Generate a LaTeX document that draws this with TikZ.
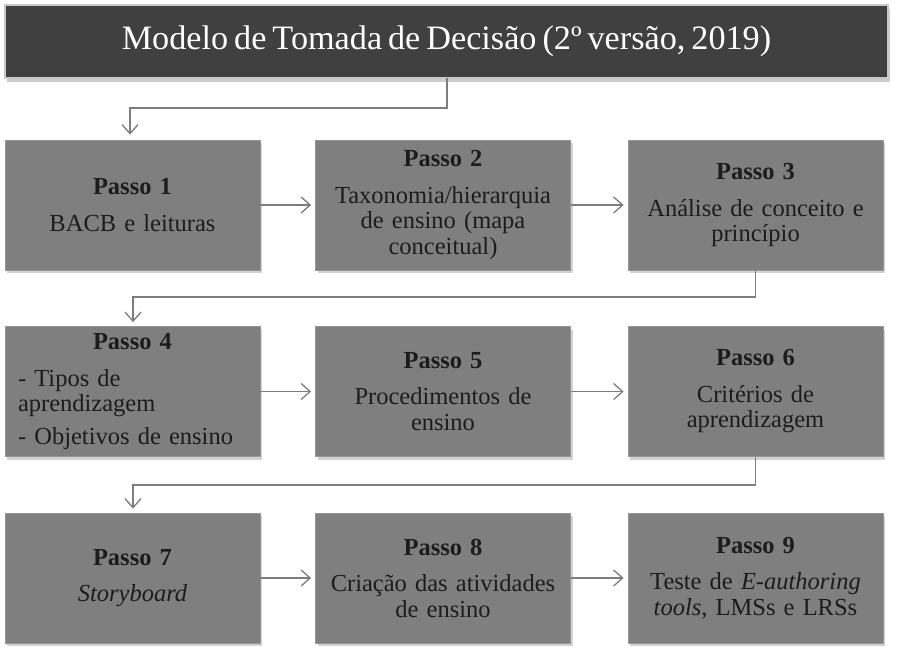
\documentclass[tikz,border=0pt]{standalone}
\usepackage{fontspec}
\setmainfont[WordSpace=0.7]{Liberation Serif}
\usetikzlibrary{arrows.meta,shadows,calc}
\definecolor{boxgray}{RGB}{127,127,127}
\definecolor{boxedge}{RGB}{150,150,150}
\definecolor{titlefill}{RGB}{64,64,64}
\definecolor{titleedge}{RGB}{200,200,200}
\definecolor{txt}{RGB}{28,28,28}
\definecolor{linegray}{RGB}{125,125,125}
\tikzset{
  stepbox/.style={draw=boxedge, line width=0.8pt, fill=boxgray, minimum width=255pt, minimum height=130pt,
    inner sep=0pt, text=txt, text width=252pt, align=center, font=\fontsize{24.5}{25.5}\selectfont,
    drop shadow={shadow xshift=2pt, shadow yshift=-3pt, opacity=0.35}},
  titlebox/.style={draw=titleedge, line width=2pt, fill=titlefill, minimum width=883pt, minimum height=73pt,
    inner sep=0pt, text=white, font=\fontsize{34.2}{36}\selectfont,
    drop shadow={shadow xshift=2pt, shadow yshift=-4pt, opacity=0.4}},
  conn/.style={draw=linegray, line width=1.5pt, -{Straight Barb[length=9pt,width=16pt,line width=1.3pt]}},
  elbow/.style={draw=linegray, line width=1.5pt, -{Straight Barb[length=9pt,width=16pt,line width=1.3pt]}}
}
\begin{document}
\begin{tikzpicture}[x=1pt,y=-1pt]
\useasboundingbox[fill=white] (0,0) rectangle (901,656);
\node[titlebox] (t) at (446.5,41.5) {Modelo de Tomada de Decisão (2º versão, 2019)};

\node[stepbox] (b1) at (132.5,205) {\textbf{Passo 1}\\[11pt]BACB e leituras};
\node[stepbox] (b2) at (443,205) {\textbf{Passo 2}\\[11pt]Taxonomia/hierarquia\\de ensino (mapa\\conceitual)};
\node[stepbox] (b3) at (755.5,205) {\textbf{Passo 3}\\[11pt]Análise de conceito e\\princípio};

\node[stepbox, text width=229pt, align=left] (b4) at (132.5,391.5) {\makebox[229pt]{\textbf{Passo 4}}\\[11pt]- Tipos de\\aprendizagem\\[7pt]- Objetivos de ensino};
\node[stepbox] (b5) at (443,391.5) {\textbf{Passo 5}\\[11pt]Procedimentos de\\ensino};
\node[stepbox] (b6) at (755.5,391.5) {\textbf{Passo 6}\\[11pt]Critérios de\\aprendizagem};

\node[stepbox] (b7) at (132.5,578) {\textbf{Passo 7}\\[11pt]\textit{Storyboard}};
\node[stepbox] (b8) at (443,578) {\textbf{Passo 8}\\[11pt]Criação das atividades\\de ensino};
\node[stepbox] (b9) at (755.5,578) {\textbf{Passo 9}\\[11pt]Teste de \textit{E-authoring}\\\textit{tools}, LMSs e LRSs};

\coordinate (t1) at (447,78);
\draw[elbow, shorten >=5pt] (t1) |- (130,108) -- (b1.north -| 130,0);
\draw[elbow, shorten >=4pt] (b3.south) |- (133,297) -- (b4.north -| 133,0);
\draw[elbow, shorten >=4pt] (b6.south) |- (133,485) -- (b7.north -| 133,0);

\draw[conn, shorten >=4pt] (b1) -- (b2);
\draw[conn, shorten >=4pt] (b2) -- (b3);
\draw[conn, shorten >=4pt] (b4) -- (b5);
\draw[conn, shorten >=4pt] (b5) -- (b6);
\draw[conn, shorten >=4pt] (b7) -- (b8);
\draw[conn, shorten >=4pt] (b8) -- (b9);
\end{tikzpicture}
\end{document}
